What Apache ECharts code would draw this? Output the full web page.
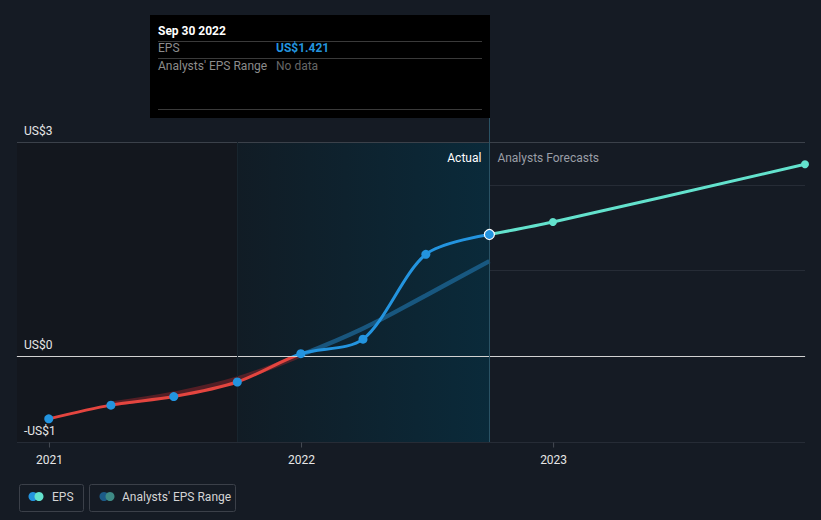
<!DOCTYPE html>
<html><head><meta charset="utf-8">
<script src="https://cdn.jsdelivr.net/npm/echarts@6/dist/echarts.min.js"></script>
<style>html,body{margin:0;padding:0;background:#151b24;}#c{width:821px;height:520px;}</style>
</head><body><div id="c"></div>
<script>
// ---- data ----
const epsDates = ['2020-12-31','2021-03-31','2021-06-30','2021-09-30','2021-12-31','2022-03-31','2022-06-30','2022-09-30'];
const epsValues = [-0.73,-0.57,-0.47,-0.30,0.03,0.20,1.19,1.421];
const forecastDates = ['2022-09-30','2022-12-31','2023-12-31'];
const forecastValues = [1.421,1.566,2.24];
const bandRedDates = ['2021-03-31','2021-06-30','2021-09-30','2021-12-31'];
const bandRedValues = [-0.555,-0.44,-0.265,0.015];
const bandBlueDates = ['2021-12-31','2022-03-31','2022-06-30','2022-09-30'];
const bandBlueValues = [0.015,0.325,0.71,1.11];
const yearTicks = ['2021-01-01','2022-01-01','2023-01-01'];
const yTickLabels = {'-1':'-US$1','0':'US$0','2.5':'US$3'};
const xStart = '2020-11-15', xEnd = '2023-12-31';
const pastStart = '2021-09-30', lastActual = '2022-09-30';

const ts = d => echarts.time.parse(d).getTime();
const pairs = (ds, vs) => ds.map((d,i)=>[ts(d), vs[i]]);

const FONT = 'Roboto, "Noto Sans", sans-serif';
const chart = echarts.init(document.getElementById('c'), null, {renderer:'svg'});

const epsData = pairs(epsDates, epsValues);
const fcData = pairs(forecastDates, forecastValues).map((p,i)=> i===0 ? {value:p, symbol:'none'} : p);

const option = {
  backgroundColor: '#151b24',
  animation: false,
  textStyle: {fontFamily: FONT},
  grid: {left: 17, right: 16, top: 142, bottom: 78},
  xAxis: {
    type: 'value', min: ts(xStart), max: ts(xEnd), z: 1,
    axisLine: {show: true, lineStyle: {color: '#464b54', width: 1}},
    axisTick: {show: false},
    axisLabel: {customValues: yearTicks.map(ts), formatter: v => String(new Date(v).getFullYear()),
      color: '#e6e6e6', fontSize: 12, fontFamily: FONT, margin: 12},
    splitLine: {show: false}
  },
  yAxis: {
    type: 'value', min: -1, max: 2.5, interval: 1, z: 1,
    axisLine: {show: false}, axisTick: {show: false},
    axisLabel: {inside: true, formatter: v => yTickLabels[String(v)] || '', color: '#e6e6e6', fontSize: 12,
      fontFamily: FONT, verticalAlign: 'bottom', align: 'left', margin: 7, padding: [0,0,5,0]},
    splitLine: {show: true, lineStyle: {color: '#262c36', width: 1}}
  },
  visualMap: [{
    type: 'piecewise', show: false, dimension: 1, seriesIndex: 1,
    pieces: [{min: -5, max: 0, color: '#e4453f'}, {min: 0, max: 5, color: '#2394df'}]
  }],
  series: [
    { // background zones (invisible carrier line)
      name: 'zones', type: 'line', data: epsData, z: 0, silent: true, symbol: 'none',
      lineStyle: {width: 0, opacity: 0},
      markArea: {silent: true, data: [
        [{xAxis: ts(xStart), itemStyle: {color: '#13171e'}}, {xAxis: ts(pastStart)}],
        [{xAxis: ts(pastStart), itemStyle: {color: new echarts.graphic.LinearGradient(0,0,1,0,[
            {offset:0, color:'#111c25'},{offset:1, color:'#0a2a3a'}])},
          label: {show: true, position: 'insideTopRight', formatter: 'Actual', color: '#ffffff', fontSize: 12,
            fontFamily: FONT, offset: [-3, 5]}},
         {xAxis: ts(lastActual)}],
        [{xAxis: ts(lastActual), itemStyle: {color: 'rgba(0,0,0,0)'},
          label: {show: true, position: 'insideTopLeft', formatter: 'Analysts Forecasts', color: '#9a9ea6', fontSize: 12,
            fontFamily: FONT, offset: [3, 5]}},
         {xAxis: ts(xEnd)}]
      ]}
    },
    { name: 'EPS', type: 'line', data: epsData, smooth: 0.3, symbol: 'none', z: 4,
      lineStyle: {width: 3} },
    { name: 'bandRed', type: 'line', data: pairs(bandRedDates, bandRedValues), smooth: 0.4,
      symbol: 'none', lineStyle: {width: 5, color: 'rgba(150,38,44,0.5)'}, z: 2 },
    { name: 'bandBlue', type: 'line', data: pairs(bandBlueDates, bandBlueValues), smooth: 0.4,
      symbol: 'none', lineStyle: {width: 4.5, color: 'rgba(30,108,160,0.7)'}, z: 2 },
    { name: 'Forecast', type: 'line', data: fcData, smooth: 0.3, symbol: 'circle', symbolSize: 8, z: 3,
      lineStyle: {width: 3, color: '#63e2cd'}, itemStyle: {color: '#63e2cd', opacity: 1} },
    { name: 'EPS points', type: 'scatter', z: 5,
      data: epsData.map((p,i)=> i===epsData.length-1 ? {value:p, symbolSize:10, itemStyle:{borderColor:'#ffffff', borderWidth:1.2}} : p),
      symbolSize: 9, itemStyle: {color: '#2394df', opacity: 1} },
    { name: 'guides', type: 'scatter', z: 1, silent: true,
      data: yearTicks.map(d => [ts(d), -1]), symbol: 'rect', symbolSize: [1, 5], symbolOffset: [0, 3],
      itemStyle: {color: '#464b54', opacity: 1},
      markLine: {silent: true, symbol: 'none', label: {show: false}, data: [
        {yAxis: 0, lineStyle: {color: '#d2d2d2', width: 1.2, type: 'solid'}},
        {yAxis: 2.5, lineStyle: {color: '#3b414a', width: 1, type: 'solid'}},
        {xAxis: ts(pastStart), lineStyle: {color: '#18252e', width: 1, type: 'solid'}},
        {xAxis: ts(lastActual), lineStyle: {color: '#2a5264', width: 1, type: 'solid'}}
      ]}
    }
  ]
};
chart.setOption(option);

// overlay elements: tooltip panel, pointer line above grid, legend
const px = chart.convertToPixel({gridIndex: 0}, [ts(lastActual), 0]);
const gridTop = chart.convertToPixel({gridIndex: 0}, [ts(lastActual), 2.5])[1];
const tipL = 150, tipT = 15, tipW = 340, tipH = 103;
chart.setOption({graphic: [
  {type: 'line', shape: {x1: Math.round(px[0])+0.5, y1: tipT+tipH, x2: Math.round(px[0])+0.5, y2: gridTop}, style: {stroke: '#2a5264', lineWidth: 1}, z: 10},
  {type: 'group', left: tipL, top: tipT, z: 20, children: [
    {type: 'rect', shape: {x: 0, y: 0, width: tipW, height: tipH}, style: {fill: '#000000'}},
    {type: 'text', x: 8, y: 16, style: {text: 'Sep 30 2022', fill: '#ffffff', font: 'bold 12px ' + FONT, verticalAlign: 'middle'}},
    {type: 'line', shape: {x1: 8, y1: 26.5, x2: 332, y2: 26.5}, style: {stroke: '#3a3a3a', lineWidth: 1}},
    {type: 'text', x: 8, y: 33, style: {text: 'EPS', fill: '#8c8c8c', font: '12px ' + FONT, verticalAlign: 'middle'}},
    {type: 'text', x: 126, y: 33, style: {text: 'US$1.421', fill: '#2394df', font: 'bold 12px ' + FONT, verticalAlign: 'middle'}},
    {type: 'line', shape: {x1: 8, y1: 43.5, x2: 332, y2: 43.5}, style: {stroke: '#3a3a3a', lineWidth: 1}},
    {type: 'text', x: 8, y: 51, style: {text: "Analysts' EPS Range", fill: '#8c8c8c', font: '12px ' + FONT, verticalAlign: 'middle'}},
    {type: 'text', x: 126, y: 51, style: {text: 'No data', fill: '#666666', font: '12px ' + FONT, verticalAlign: 'middle'}},
    {type: 'line', shape: {x1: 8, y1: 94.5, x2: 332, y2: 94.5}, style: {stroke: '#3a3a3a', lineWidth: 1}}
  ]},
  {type: 'group', left: 17, top: 482, z: 20, children: [
    {type: 'rect', shape: {x: 0.5, y: 0.5, width: 64, height: 27, r: 2}, style: {fill: 'none', stroke: '#3b4049', lineWidth: 1}},
    {type: 'circle', shape: {cx: 14, cy: 12.5, r: 4.5}, style: {fill: '#2394df'}},
    {type: 'circle', shape: {cx: 20, cy: 12.5, r: 4.5}, style: {fill: '#63e2cd'}},
    {type: 'text', x: 33, y: 13, style: {text: 'EPS', fill: '#d4d4d4', font: '12px ' + FONT, verticalAlign: 'middle'}},
    {type: 'rect', shape: {x: 70.5, y: 0.5, width: 146, height: 27, r: 2}, style: {fill: 'none', stroke: '#3b4049', lineWidth: 1}},
    {type: 'circle', shape: {cx: 85, cy: 12.5, r: 4.5}, style: {fill: '#1c5b88'}},
    {type: 'circle', shape: {cx: 91, cy: 12.5, r: 4.5}, style: {fill: '#3e8a85'}},
    {type: 'text', x: 103, y: 13, style: {text: "Analysts' EPS Range", fill: '#d4d4d4', font: '12px ' + FONT, verticalAlign: 'middle'}}
  ]}
]});
</script>
</body></html>
